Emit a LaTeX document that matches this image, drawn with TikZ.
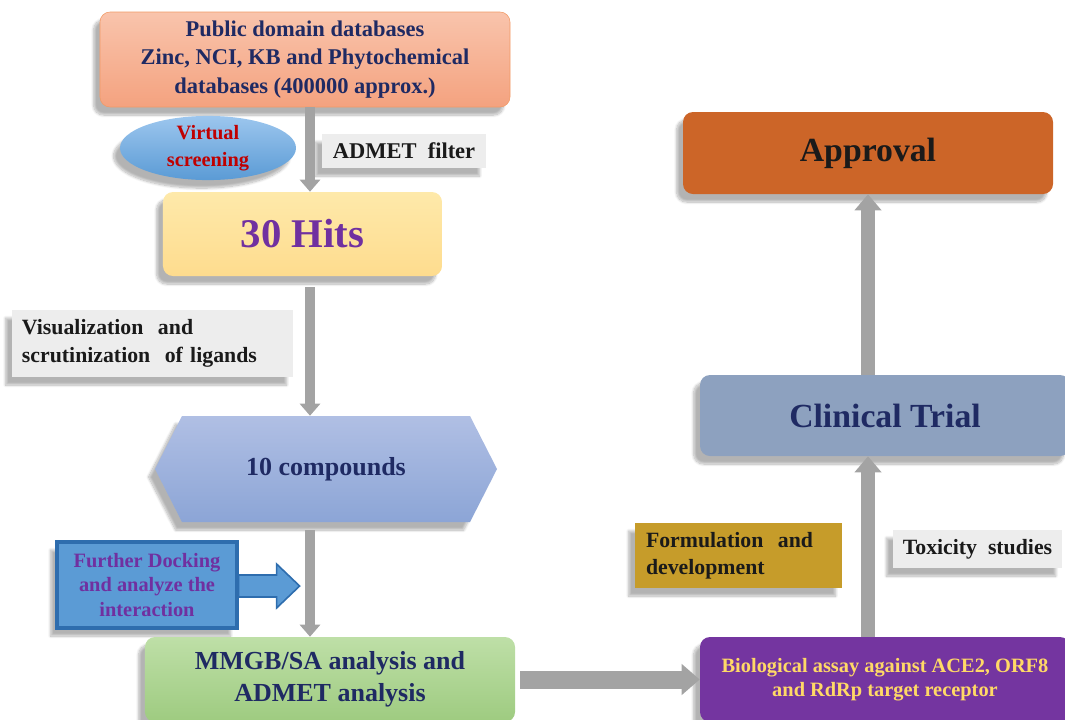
\documentclass[tikz,border=0pt]{standalone}
\usepackage{fontspec}
\setmainfont{Liberation Serif}
\usepackage{tikz}
\usetikzlibrary{arrows.meta,shapes.geometric,shapes.symbols,shadows.blur}

\definecolor{inknavy}{HTML}{1F2A63}
\definecolor{inkpurple}{HTML}{7030A0}
\definecolor{inkred}{HTML}{C00000}
\definecolor{inkgold}{HTML}{FFD966}
\definecolor{inkdark}{HTML}{1A1A1A}
\definecolor{tagfill}{HTML}{EDEDED}
\definecolor{flowgray}{HTML}{A3A3A3}
\definecolor{dbtop}{HTML}{F9C4AC}
\definecolor{dbbot}{HTML}{F4A27F}
\definecolor{dbedge}{HTML}{F29A66}
\definecolor{vstop}{HTML}{9CC6EE}
\definecolor{vsbot}{HTML}{5B9BD5}
\definecolor{hitstop}{HTML}{FEE9AA}
\definecolor{hitsbot}{HTML}{FEDC8E}
\definecolor{cmpdtop}{HTML}{B0BFE4}
\definecolor{cmpdbot}{HTML}{8CA5D6}
\definecolor{dockfill}{HTML}{5B9BD5}
\definecolor{dockedge}{HTML}{2E6DAE}
\definecolor{mmgbtop}{HTML}{BEDFA7}
\definecolor{mmgbbot}{HTML}{9ECB80}
\definecolor{biofill}{HTML}{7435A0}
\definecolor{formfill}{HTML}{C69C2A}
\definecolor{trialfill}{HTML}{8DA1BF}
\definecolor{approvefill}{HTML}{CC6528}

\begin{document}
\begin{tikzpicture}[x=0.25mm,y=-0.25mm,
    softshadow/.style={blur shadow={shadow xshift=-1.6mm,shadow yshift=-2mm,shadow blur steps=12,shadow opacity=30}},
    box/.style={softshadow,rounded corners=2.5mm,inner sep=0pt,align=center},
    tag/.style={softshadow,fill=tagfill,inner ysep=0pt,inner xsep=2.5mm,text=inkdark},
    flow/.style={draw=flowgray,line width=2.5mm,-{Triangle[width=5mm,length=3mm]}},
    wideflow/.style={draw=flowgray,line width=3.5mm,-{Triangle[width=6.5mm,length=4mm]}}]

    \useasboundingbox (0,0) rectangle (1065,719);

    % Screening column
    \node[box,top color=dbtop,bottom color=dbbot,draw=dbedge,minimum width=102.5mm,minimum height=23.75mm,
          text=inknavy,font=\bfseries\fontsize{16}{20}\selectfont] (dbs) at (305,59.5)
          {Public domain databases\\Zinc, NCI, KB and Phytochemical\\databases (400000 approx.)};
    \node[softshadow,ellipse,top color=vstop,bottom color=vsbot,minimum width=44mm,minimum height=15mm,inner sep=0pt,
          align=center,text=inkred,font=\bfseries\fontsize{14.5}{19}\selectfont] (vscreen) at (208,148)
          {Virtual\\screening};
    \node[tag,minimum width=41mm,minimum height=8.5mm,font=\bfseries\fontsize{16}{19}\selectfont] (admet) at (404,151)
          {ADMET\ \ filter};
    \node[box,top color=hitstop,bottom color=hitsbot,minimum width=69.75mm,minimum height=21mm,
          text=inkpurple,font=\bfseries\fontsize{29}{34}\selectfont] (hits) at (302.5,234) {30 Hits};
    \node[tag,text width=65.25mm,minimum height=16.75mm,align=left,font=\bfseries\fontsize{15.5}{20}\selectfont] (visual) at (152.5,343.5)
          {Visualization\ \ and\\scrutinization\ \ of ligands};
    \node[softshadow,signal,signal to=east and west,signal pointer angle=126,top color=cmpdtop,bottom color=cmpdbot,
          minimum width=85.5mm,minimum height=26.5mm,inner sep=0pt,text=inknavy,font=\bfseries\fontsize{18.5}{22}\selectfont]
          (cmpd) at (326,469) {10 compounds};

    % Docking note and its block arrow
    \node[softshadow,fill=dockfill,draw=dockedge,line width=0.8mm,minimum width=45mm,minimum height=21.5mm,inner sep=0pt,
          align=center,text=inkpurple,font=\bfseries\fontsize{14.5}{17.7}\selectfont] (dock) at (147,585)
          {Further Docking\\and analyze the\\interaction};
    \draw[fill=dockfill,draw=dockedge,line width=0.4mm,line join=miter]
          (dock.east) ++(0,-10) -- ++(38,0) -- ++(0,-11) -- ++(23,22) -- ++(-23,22) -- ++(0,-11) -- ++(-38,0) -- cycle;

    \node[box,top color=mmgbtop,bottom color=mmgbbot,minimum width=92.5mm,minimum height=21.25mm,
          text=inknavy,font=\bfseries\fontsize{18.5}{23}\selectfont] (mmgb) at (330,679.5)
          {MMGB/SA analysis and\\ADMET analysis};

    % Testing column
    \node[box,fill=biofill,minimum width=92.5mm,minimum height=21.25mm,
          text=inkgold,font=\bfseries\fontsize{14.5}{17}\selectfont] (bio) at (885,679.5)
          {Biological assay against ACE2, ORF8\\and RdRp target receptor};
    \node[softshadow,fill=formfill,inner ysep=0pt,inner xsep=2.75mm,text width=46.25mm,minimum height=16.25mm,align=left,
          text=inkdark,font=\bfseries\fontsize{15.5}{19}\selectfont] (form) at (738.5,555.5)
          {Formulation\ \ and\\development};
    \node[tag,minimum width=42.25mm,minimum height=9.5mm,font=\bfseries\fontsize{15.5}{19}\selectfont] (tox) at (977.5,549)
          {Toxicity\ \ studies};
    \node[box,fill=trialfill,minimum width=92.5mm,minimum height=20.25mm,
          text=inknavy,font=\bfseries\fontsize{24}{28}\selectfont] (trial) at (885,415.5) {Clinical Trial};
    \node[box,fill=approvefill,minimum width=92.5mm,minimum height=20.5mm,
          text=inkdark,font=\bfseries\fontsize{24}{28}\selectfont] (approve) at (868,153) {Approval};

    % Connectors
    \coordinate (spine) at (310,0);
    \coordinate (riser) at (868,0);
    \draw[flow] (dbs.south -| spine) -- (hits.north -| spine);
    \draw[flow,shorten <=2.75mm] (hits.south -| spine) -- (cmpd.north -| spine);
    \draw[flow,shorten <=2mm] (cmpd.south -| spine) -- (mmgb.north -| spine);
    \draw[wideflow,line width=4.5mm,-{Triangle[width=7.5mm,length=4.5mm]},shorten <=1.25mm] (mmgb.east) -- (bio.west);
    \draw[wideflow] (bio.north -| riser) -- (trial.south -| riser);
    \draw[wideflow] (trial.north -| riser) -- (approve.south -| riser);

\end{tikzpicture}
\end{document}
